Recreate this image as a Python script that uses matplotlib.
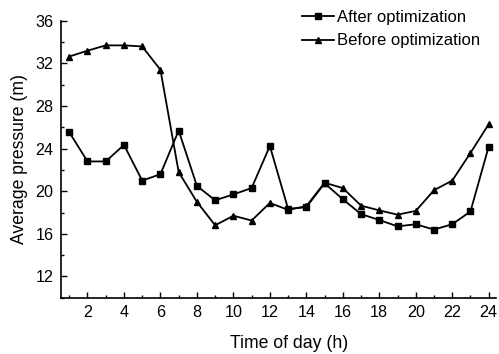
import matplotlib
matplotlib.use("Agg")
import matplotlib.pyplot as plt
from matplotlib.ticker import MultipleLocator
from matplotlib import font_manager

names = {f.name for f in font_manager.fontManager.ttflist}
fam = 'Liberation Sans Narrow' if 'Liberation Sans Narrow' in names else 'Liberation Sans'
plt.rcParams['font.family'] = [fam, 'DejaVu Sans']
scale = 1.0 if fam == 'Liberation Sans Narrow' else 0.82

hours = list(range(1, 25))
after = [25.55, 22.8, 22.8, 24.35, 21.0, 21.6, 25.7, 20.5, 19.15, 19.7, 20.3, 24.25,
         18.35, 18.5, 20.75, 19.25, 17.85, 17.3, 16.7, 16.9, 16.4, 16.9, 18.1, 24.2]
before = [32.65, 33.2, 33.7, 33.7, 33.6, 31.4, 21.8, 19.0, 16.8, 17.7, 17.25, 18.9,
          18.25, 18.6, 20.8, 20.3, 18.65, 18.2, 17.8, 18.15, 20.1, 21.0, 23.6, 26.3]
x_ticks = [2, 4, 6, 8, 10, 12, 14, 16, 18, 20, 22, 24]
y_ticks = [12, 16, 20, 24, 28, 32, 36]

fs_tick = 14.2 * scale
fs_legend = 14.6 * scale
fs_label = 15.5 * scale

fig = plt.figure(figsize=(4.99, 3.54), dpi=100)
ax = fig.add_axes([0.1216, 0.159, 0.994 - 0.1216, 0.941 - 0.159])

ax.plot(hours, after, color='black', lw=1.3, marker='s', ms=4.5, label='After optimization')
ax.plot(hours, before, color='black', lw=1.3, marker='^', ms=5, label='Before optimization')

ax.set_xlim(0.53, 24.4)
ax.set_ylim(10, 36)
ax.set_xticks(x_ticks)
ax.set_yticks(y_ticks)
ax.xaxis.set_minor_locator(MultipleLocator(1))
ax.yaxis.set_minor_locator(MultipleLocator(2))
ax.tick_params(which='major', direction='in', length=4, width=1, labelsize=fs_tick, pad=5)
ax.tick_params(which='minor', direction='in', length=2.5, width=1)
ax.spines['top'].set_visible(False)
ax.spines['right'].set_visible(False)
ax.spines['left'].set_linewidth(1.2)
ax.spines['bottom'].set_linewidth(1.2)

ax.set_xlabel('Time of day (h)', fontsize=fs_label)
ax.set_ylabel('Average pressure (m)', fontsize=fs_label)
ax.xaxis.set_label_coords(0.525, -0.135)
ax.yaxis.set_label_coords(-0.074, 0.5)

ax.legend(loc='upper right', bbox_to_anchor=(0.99, 1.082), frameon=False, fontsize=fs_legend,
          handlelength=1.9, handletextpad=0.2, labelspacing=0.52, borderpad=0.2)

fig.savefig('out.png', dpi=100)
